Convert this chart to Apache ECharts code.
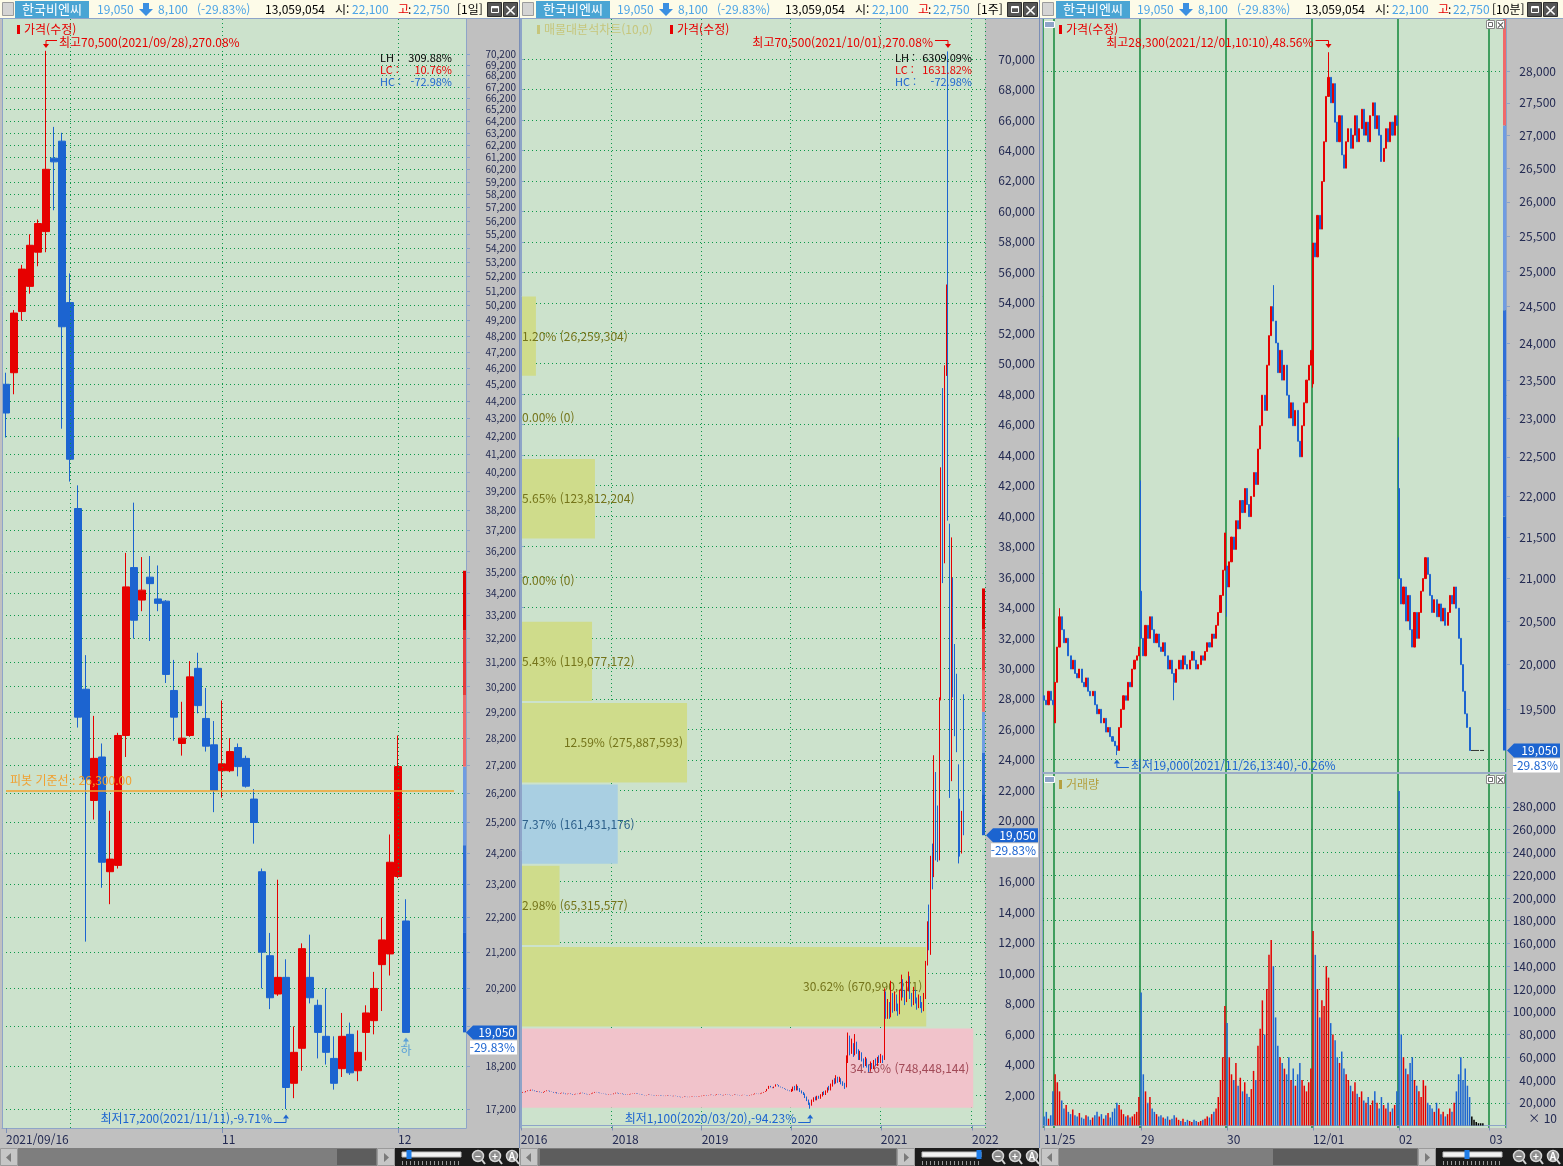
<!DOCTYPE html>
<html lang="ko"><head><meta charset="utf-8"><title>한국비엔씨</title>
<script src="https://cdn.jsdelivr.net/npm/echarts@6.0.0/dist/echarts.min.js"></script>
<style>html,body{margin:0;padding:0;background:#c0c0c0;overflow:hidden}#chart{width:1563px;height:1166px}</style>
</head><body><div id="chart"></div>
<script>
// ================= DATA =================
const stockName = '한국비엔씨';
const lastPrice = 19050, prevClose = 27150, dayOpenPrice = 22100, dayHighPrice = 22750, dayVolume = 13059054;
const limitLevels = [19050, 21750, 24450, 27150, 29850, 32550, 35250];

// --- daily (1일) ---
const dailyDates = ['2021/09/16','2021/09/17','2021/09/23','2021/09/24','2021/09/27','2021/09/28','2021/09/29','2021/09/30','2021/10/01','2021/10/05','2021/10/06','2021/10/07','2021/10/08','2021/10/12','2021/10/13','2021/10/14','2021/10/15','2021/10/18','2021/10/19','2021/10/20','2021/10/21','2021/10/22','2021/10/25','2021/10/26','2021/10/27','2021/10/28','2021/10/29','2021/11/01','2021/11/02','2021/11/03','2021/11/04','2021/11/05','2021/11/08','2021/11/09','2021/11/10','2021/11/11','2021/11/12','2021/11/15','2021/11/16','2021/11/17','2021/11/18','2021/11/19','2021/11/22','2021/11/23','2021/11/24','2021/11/25','2021/11/26','2021/11/29','2021/11/30','2021/12/01','2021/12/02'];
const dailyOpen  = [45200,45900,49800,51500,53900,55400,61100,62500,50400,38300,30100,25950,27500,23600,23800,28300,35400,33900,34950,33950,33850,30050,28000,28300,30950,28950,27950,27000,27000,27850,27450,26000,23600,21100,20050,20500,17800,18650,20500,19750,18950,18400,18150,19000,18100,19050,19350,20850,21150,23450,22100];
const dailyClose = [43500,49700,52700,54400,56000,60200,60800,48800,40900,29000,26700,27450,23900,24000,28300,34500,33000,34350,34650,33750,30700,29000,28200,30600,29450,27900,26300,27250,27700,27150,26450,25200,21200,19950,20500,17700,18550,21300,19950,19050,18550,17800,18950,18050,18550,19550,20200,21550,23900,27150,19050];
const dailyLow   = [42100,44600,49200,51000,52900,53900,57000,42600,39700,28600,21500,25300,23100,22600,23700,27500,32200,33400,32100,33400,30350,28100,27550,28250,29150,27700,25550,26050,26950,26800,26400,24500,20200,19650,20000,17200,17450,18100,19800,18400,18250,17650,17950,18000,17850,18350,19000,19600,20550,23400,19050];
const dailyHigh  = [45900,49900,53000,55200,56300,70500,63700,63200,52400,39500,31500,29050,28000,25600,28400,36100,38600,35900,35950,35500,33900,31300,29600,31250,31600,30150,28850,29650,28200,28000,27550,26350,23700,21750,23350,21000,19200,21450,21700,19900,20200,18950,19550,19300,19100,19750,20650,22200,24800,28300,22750];
const pivotLevel = 26300;

// --- weekly (1주) ---
const weekCloseEarly = [ // 2016/12/30 .. 2019/12/27 closes
2150,2200,2180,2250,2300,2280,2350,2300,2250,2200,2230,2180,2150,2200,2250,2300,2280,2220,2200,2150,2180,2100,2080,2120,2150,2100,2050,2080,2100,2060,2020,2050,2080,2060,2100,2150,2120,2080,2050,2030,2060,2100,2150,2200,2180,2150,2120,2100,2080,2050,2030,2060,2040,
2050,2100,2150,2120,2080,2100,2060,2030,2000,2020,2050,2080,2100,2130,2100,2070,2050,2020,2000,1980,2000,2030,2010,1990,1970,1950,1980,2000,1970,1950,1930,1950,1980,1960,1940,1920,1950,1930,1900,1880,1850,1870,1900,1880,1860,1880,1900,1920,1900,1880,1900,1920,
1950,1980,2000,1970,1990,2020,2000,1980,2010,2050,2030,2000,1980,2010,2040,2020,2000,1980,2000,2030,2010,1990,1970,1990,2010,2000,1980,1960,1990,2020,2050,2100,2080,2060,2100,2150,2200,2250,2400,2600,2500,2450,2550,2700,2650,2550,2500,2450,2400,2350,2300,2250];
const week2020 = [ // [open, close, low, high]
[2250,2300,2200,2400],[2300,2450,2250,2550],[2450,2350,2300,2600],[2350,2500,2300,2700],[2500,2400,2300,2600],[2400,2250,2200,2450],[2250,2150,2100,2300],[2150,2050,2000,2200],[2050,1850,1800,2100],[1850,1650,1600,1900],[1650,1400,1350,1700],[1400,1350,1100,1500],[1350,1600,1300,1700],[1600,1750,1550,1850],[1750,1700,1650,1900],[1700,1850,1650,1950],[1850,1800,1750,1950],[1800,1950,1750,2050],[1950,2100,1900,2200],[2100,2050,2000,2250],[2050,2200,2000,2300],[2200,2400,2150,2500],[2400,2350,2300,2600],[2350,2600,2300,2750],[2600,2900,2550,3000],[2900,2800,2700,3100],[2800,3100,2750,3300],[3100,2900,2800,3200],[2900,3000,2850,3200],[3000,2800,2700,3100],[2800,2700,2600,2900],[2700,2600,2400,2800],[2600,4300,2500,4600],[4300,5600,4100,6100],[5600,4900,4600,5900],[4900,5300,4700,5700],[5300,4700,4500,5400],[4700,5400,4600,6000],[5400,4900,4700,5500],[4900,4400,4300,5000],[4400,4700,4300,4900],[4700,4300,4200,4800],[4300,4000,3800,4400],[4000,4300,3900,4500],[4300,3900,3800,4400],[3900,3700,3500,4000],[3700,4000,3600,4200],[4000,3800,3700,4100],[3800,4100,3700,4300],[4100,4000,3900,4400],[4000,4300,3900,4500],[4300,4200,4100,4600]];
const week2021 = [
[4200,4400,4100,4700],[4400,4300,4100,4600],[4300,8200,4300,9000],[8200,7300,7000,8800],[7300,7800,7000,8300],[7800,7200,7000,8100],[7200,8500,7100,9500],[8500,7600,7400,8700],[7600,8300,7500,8800],[8300,7700,7500,8600],[7700,7400,7200,8000],[7400,8400,7300,8900],[8400,9300,8200,9900],[9300,8600,8400,9600],[8600,8200,7900,8900],[8200,9000,8100,9500],[9000,9600,8800,10100],[9600,8500,8300,9800],[8500,8000,7800,8700],[8000,8700,7900,9100],[8700,8200,8000,8900],[8200,7800,7600,8400],[7800,8300,7700,8600],[8300,7900,7700,8500],[7900,7600,7400,8100],[7600,8400,7500,8700],[8400,10700,8300,10800],[10700,12800,10500,13400],[12800,12200,11500,14500],[12200,17000,11200,17700],[17000,16500,15500,18500],[16500,22500,16300,24300],[22500,19500,17400,23200],[19500,18000,17300,21000],[18000,27800,17400,28100],[28000,42000,27900,43200],[47000,38000,35600,48400],[38000,49700,36900,49900],[49800,54400,49200,55200],[53900,40900,39700,70500],[38300,23900,21500,39500],[23600,33000,22600,38600],[33900,29000,28100,35950],[28000,26300,25550,31600],[27000,25200,24500,29650],[23600,18550,17200,23700],[18650,17800,17650,21450],[18150,20200,17850,20650],[20850,19050,19050,28300]];

// --- volume profile (매물대분석차트 10,0) ---
const profileStart = 1100, profileStep = 5338.46;
const profilePct = [34.16, 30.62, 2.98, 7.37, 12.59, 5.43, 0.00, 5.65, 0.00, 1.20];
const profileVol = [748448144, 670990271, 65315577, 161431176, 275887593, 119077172, 0, 123812204, 0, 26259304];

// --- 10 minute (10분) ---
const minuteDayStart = [0, 5, 44, 83, 122, 161, 202];
const minuteDayLabel = ['11/25', '26', '29', '30', '12/01', '02', '03'];
const minuteOpen = [19650, 19350, 20850, 21150, 23450, 22100];
const m1125 = [19600,19550,19700,19600,19550];
const m1126 = [19800,20200,20550,20400,20250,20300,20100,19950,20050,19900,19850,19950,19800,19750,19850,19700,19650,19700,19550,19450,19500,19350,19400,19250,19300,19200,19150,19100,19050,19300,19500,19650,19600,19800,19750,19950,20050,20100,20200];
const m1129 = [20300,20100,20450,20300,20550,20400,20250,20350,20200,20150,20250,20100,19950,20050,19900,19800,19950,20050,19950,20100,20000,19950,20050,20150,20050,19950,20000,20100,20050,20150,20250,20200,20350,20300,20450,20600,20800,21100,21550];
const m1130 = [20900,21200,21500,21350,21700,21600,21950,21800,22100,21900,21750,22000,22300,22150,22600,22900,23300,23100,23700,24100,24500,24300,24000,23600,23900,23500,23700,23300,23000,23200,22900,23100,22700,22500,22900,23200,23500,23700,23900];
const m1201 = [25400,25200,25800,25600,26300,26900,27600,27900,27500,27800,27200,26900,27300,26700,26500,26900,27100,26800,27000,27300,26900,27100,27400,27000,27200,26900,27300,27500,27100,27300,27000,26600,26800,27100,26900,27200,27000,27300,27150];
const m1202 = [21000,20700,20900,20500,20800,20400,20200,20600,20300,20600,20850,21000,21250,21050,20800,20600,20750,20550,20700,20500,20650,20450,20600,20800,20700,20900,20650,20300,20000,19700,19450,19300,19050,19050,19050,19050,19050,19050,19050];
const minuteWicks = [[7,null,20650],[33,19000,null],[44,null,22200],[59,19600,null],[83,20550,null],[104,null,24800],[122,23400,null],[129,null,28300],[161,null,22750]];
const v1125 = [8000,12000,6000,9000,30000];
const v1126 = [45000,38000,30000,22000,15000,18000,12000,10000,14000,9000,8000,11000,7000,6000,9000,8000,5000,7000,9000,12000,8000,10000,6000,9000,11000,7000,12000,15000,20000,18000,14000,10000,8000,9000,7000,8000,10000,12000,25000];
const v1129 = [117000,45000,30000,20000,25000,15000,12000,10000,8000,9000,7000,6000,8000,5000,6000,9000,7000,5000,4000,6000,3000,5000,4000,3000,5000,4000,3000,4000,5000,6000,8000,7000,10000,12000,15000,25000,40000,60000,105000];
const v1130 = [90000,60000,45000,40000,55000,35000,42000,30000,38000,28000,25000,32000,48000,40000,70000,85000,110000,80000,120000,150000,163000,140000,95000,70000,60000,55000,50000,45000,60000,40000,50000,35000,45000,55000,40000,35000,30000,38000,50000];
const v1201 = [171000,150000,120000,95000,110000,105000,140000,130000,90000,80000,75000,60000,55000,65000,50000,45000,40000,35000,30000,38000,28000,25000,30000,22000,20000,25000,18000,22000,30000,20000,15000,25000,18000,15000,20000,12000,15000,18000,30000];
const v1202 = [294000,80000,60000,50000,45000,55000,60000,40000,35000,30000,25000,40000,35000,20000,18000,15000,12000,20000,15000,10000,12000,8000,10000,15000,12000,20000,30000,45000,60000,40000,50000,35000,25000,8000,5000,3000,2000,2000,2000];

// --- axis tick labels ---
const p1Ticks = [17200,18200,19200,20200,21200,22200,23200,24200,25200,26200,27200,28200,29200,30200,31200,32200,33200,34200,35200,36200,37200,38200,39200,40200,41200,42200,43200,44200,45200,46200,47200,48200,49200,50200,51200,52200,53200,54200,55200,56200,57200,58200,59200,60200,61200,62200,63200,64200,65200,66200,67200,68200,69200,70200];
const p2Ticks = [2000,4000,6000,8000,10000,12000,14000,16000,18000,20000,22000,24000,26000,28000,30000,32000,34000,36000,38000,40000,42000,44000,46000,48000,50000,52000,54000,56000,58000,60000,62000,64000,66000,68000,70000];
const p3Ticks = [19500,20000,20500,21000,21500,22000,22500,23000,23500,24000,24500,25000,25500,26000,26500,27000,27500,28000];
const volTicks = [20000,40000,60000,80000,100000,120000,140000,160000,180000,200000,220000,240000,260000,280000];
const p3GridLevels = [28000, 19000];

// ================= BUILD =================
const L = Math.log;
const FONT = '"Noto Sans CJK KR", "Noto Sans", sans-serif';
const GRIDC = '#0d984a', DOT = [1, 3], NAVY = '#232a52', FRAME = '#8ea4c8';
const RED = '#e60000', BLUE = '#1c64d0', LBLUE = '#4ca4e6';
const BG = '#cce2cc';
function fmtNum(v){ const s = String(Math.round(Math.abs(v))).replace(/\B(?=(\d{3})+(?!\d))/g, ','); return (v < 0 ? '-' : '') + s; }
const pctText = ((lastPrice / prevClose - 1) * 100).toFixed(2) + '%';

// panel 1
const p1Cats = dailyDates.concat(['f1','f2','f3','f4','f5','f6','f7']);
const p1Candles = dailyDates.map((d, i) => [L(dailyOpen[i]), L(dailyClose[i]), L(dailyLow[i]), L(dailyHigh[i])]);
const p1XLabels = {0: '2021/09/16', 27: '11', 49: '12'};
const iHigh1 = dailyHigh.indexOf(Math.max(...dailyHigh));
const iLow1 = dailyLow.indexOf(Math.min(...dailyLow));

// panel 2
const weekOHLC = [];
let prevC = weekCloseEarly[0];
weekCloseEarly.forEach(c => { const o = prevC; weekOHLC.push([o, c, Math.min(o, c), Math.max(o, c)]); prevC = c; });
week2020.concat(week2021).forEach(r => weekOHLC.push(r));
const weekCats = [];
const wk0 = Date.UTC(2016, 11, 30);
for (let i = 0; i < 270; i++) {
  const d = new Date(wk0 + i * 7 * 86400000);
  weekCats.push(d.getUTCFullYear() + '/' + String(d.getUTCMonth() + 1).padStart(2, '0') + '/' + String(d.getUTCDate()).padStart(2, '0'));
}
const p2XLabels = {};
let lastLab = -999;
weekCats.forEach((c, i) => {
  if (i === 0 || c.slice(0, 4) !== weekCats[i - 1].slice(0, 4)) {
    if (i - lastLab > 20) { p2XLabels[i] = c.slice(0, 4); lastLab = i; }
  }
});
const wHighs = weekOHLC.map(r => r[3]), wLows = weekOHLC.map(r => r[2]);
const iHigh2 = wHighs.indexOf(Math.max(...wHighs));
const iLow2 = wLows.indexOf(Math.min(...wLows));
const profileMax = Math.max(...profilePct);
const profileCur = Math.floor((lastPrice - profileStart) / profileStep);

// panel 3
const minuteClose = [m1125, m1126, m1129, m1130, m1201, m1202];
const minuteVolDays = [v1125, v1126, v1129, v1130, v1201, v1202];
const mRaw = [];
minuteClose.forEach((arr, d) => { let o = minuteOpen[d]; arr.forEach(c => { mRaw.push([o, c, Math.min(o, c), Math.max(o, c)]); o = c; }); });
minuteWicks.forEach(([s, lo, hi]) => { if (lo != null) mRaw[s][2] = Math.min(mRaw[s][2], lo); if (hi != null) mRaw[s][3] = Math.max(mRaw[s][3], hi); });
const mCandles = mRaw.map(r => r.map(L));
const mVol = [].concat(...minuteVolDays);
const mVolData = mVol.map((v, i) => {
  const r = mRaw[i]; const col = r[1] > r[0] ? RED : (r[1] < r[0] ? BLUE : '#000000');
  return {value: v, itemStyle: {color: col}};
});
const mCats = [];
for (let i = 0; i < 210; i++) mCats.push('s' + i);
const p3XLabels = {};
let lastM = -999;
minuteDayStart.forEach((s, k) => { if (s - lastM > 20) { p3XLabels[s] = minuteDayLabel[k]; lastM = s; } });
const mHighs = mRaw.map(r => r[3]), mLows = mRaw.map(r => r[2]);
const iHigh3 = mHighs.indexOf(Math.max(...mHighs));
const iLow3 = mLows.indexOf(Math.min(...mLows));

// limit strip
const limitColors = ['#1a5fd0', '#2f6fd8', '#6f9ce2', '#f06a6a', '#e83a3a', '#dd0000'];
const limitSegs = limitLevels.slice(0, -1).map((lo, i) => [lo, limitLevels[i + 1]]);
function stripSeries(xi, yi, tf) {
  return {
    type: 'custom', xAxisIndex: xi, yAxisIndex: yi, silent: true, z: 6,
    data: limitSegs.map((s, i) => [0, tf(s[0]), tf(s[1])]),
    renderItem(params, api) {
      const cs = params.coordSys;
      const ya = api.coord([0, api.value(1)])[1], yb = api.coord([0, api.value(2)])[1];
      const top = Math.max(Math.min(ya, yb), cs.y), bot = Math.min(Math.max(ya, yb), cs.y + cs.height);
      if (bot <= top) return null;
      return {type: 'rect', shape: {x: cs.x + cs.width - 3, y: top, width: 3, height: bot - top}, style: {fill: limitColors[params.dataIndex]}};
    }
  };
}

const candleStyle = {color: RED, color0: BLUE, borderColor: RED, borderColor0: BLUE, borderColorDoji: '#000000', borderWidth: 1};
const axLabel = {color: NAVY, fontFamily: FONT, fontSize: 12};
const dotLine = {lineStyle: {color: GRIDC, type: DOT, width: 1}};

function catAxis(grid, data, labels, splitFn, splitStyle, showLabels) {
  return {
    type: 'category', gridIndex: grid, data, boundaryGap: true,
    axisLine: {show: true, lineStyle: {color: FRAME}},
    axisTick: {show: showLabels, alignWithLabel: true, interval: (i) => labels[i] !== undefined, length: 5, lineStyle: {color: '#7c90ba'}},
    axisLabel: Object.assign({show: showLabels, interval: (i) => labels[i] !== undefined, formatter: (v, i) => labels[i] || '', align: 'left', margin: 5}, axLabel),
    splitLine: {show: true, interval: splitFn, lineStyle: splitStyle}
  };
}
function valAxis(grid, min, max, ticks, labelTicks, tf, split, fs) {
  return {
    type: 'value', gridIndex: grid, position: 'right', min, max,
    axisLine: {show: true, lineStyle: {color: FRAME}},
    axisTick: {show: true, customValues: ticks.map(tf), length: 4, lineStyle: {color: FRAME}},
    axisLabel: Object.assign({customValues: labelTicks.map(tf), formatter: (v) => fmtNum(tf === L ? Math.exp(v) : v), align: 'right', margin: 50, hideOverlap: false}, axLabel, fs ? {fontSize: fs, lineHeight: fs} : {}),
    splitLine: {show: split, lineStyle: {color: GRIDC, type: DOT, width: 1}}
  };
}
const ident = v => v;

const option = {
  backgroundColor: '#c0c0c0',
  animation: false,
  textStyle: {fontFamily: FONT},
  grid: [
    {left: 2, top: 19, width: 464, height: 1109, show: true, backgroundColor: BG, borderWidth: 0, containLabel: false, outerBoundsMode: 'none'},
    {left: 520, top: 19, width: 465, height: 1109, show: true, backgroundColor: BG, borderWidth: 0, containLabel: false, outerBoundsMode: 'none'},
    {left: 1043, top: 19, width: 463, height: 753, show: true, backgroundColor: BG, borderWidth: 0, containLabel: false, outerBoundsMode: 'none'},
    {left: 1043, top: 774, width: 463, height: 354, show: true, backgroundColor: BG, borderWidth: 0, containLabel: false, outerBoundsMode: 'none'}
  ],
  xAxis: [
    catAxis(0, p1Cats, p1XLabels, (i) => i === 0, {color: GRIDC, type: DOT, width: 1}, true),
    catAxis(1, weekCats, p2XLabels, (i) => p2XLabels[i] !== undefined, {color: GRIDC, type: DOT, width: 1}, true),
    {type: 'value', gridIndex: 1, min: 0, max: 35.05, show: false},
    Object.assign(catAxis(2, mCats, p3XLabels, (i) => minuteDayStart.includes(i), {color: '#12873a', width: 1.5, type: 'solid'}, false), {axisLine: {show: false}}),
    catAxis(3, mCats, p3XLabels, (i) => minuteDayStart.includes(i), {color: '#12873a', width: 1.5, type: 'solid'}, true)
  ],
  yAxis: [
    valAxis(0, L(16770), L(73554), p1Ticks, p1Ticks.filter(t => t !== 19200), L, true, 10),
    valAxis(1, -166, 72627, p2Ticks, p2Ticks.filter(t => t !== 18000), ident, true),
    valAxis(2, L(18819), L(28838), p3Ticks, p3Ticks, L, false),
    valAxis(3, -2190, 308940, volTicks, volTicks, ident, true)
  ],
  series: [
    { // panel 1 daily candles
      type: 'candlestick', name: '가격(수정)', xAxisIndex: 0, yAxisIndex: 0, data: p1Candles, barWidth: 7, itemStyle: candleStyle, z: 3,
      markLine: {
        symbol: ['none', 'none'], silent: true, animation: false,
        data: [
          {xAxis: dailyDates[8], lineStyle: dotLine.lineStyle, label: {show: false}},
          {xAxis: dailyDates[27], lineStyle: dotLine.lineStyle, label: {show: false}},
          {xAxis: dailyDates[49], lineStyle: dotLine.lineStyle, label: {show: false}},
          [{coord: [p1Cats[0], L(pivotLevel)], lineStyle: {color: '#f3a12c', width: 1.5, type: 'solid'},
            label: {show: true, position: 'insideStartTop', formatter: '피봇 기준선 : ' + pivotLevel.toLocaleString('en-US', {minimumFractionDigits: 2}), color: '#f0a030', fontSize: 12, fontFamily: FONT, distance: [4, 4]}},
           {coord: [p1Cats[56], L(pivotLevel)]}]
        ]
      }
    },
    stripSeries(0, 0, L),
    { // panel 2 volume profile
      type: 'custom', name: '매물대분석차트', xAxisIndex: 2, yAxisIndex: 1, silent: true, z: 2,
      data: profilePct.map((p, i) => [p, profileStart + i * profileStep, profileStart + (i + 1) * profileStep, profileVol[i]]),
      renderItem(params, api) {
        const i = params.dataIndex, pct = api.value(0), lo = api.value(1), hi = api.value(2), vol = api.value(3);
        const a = api.coord([0, hi]), b = api.coord([pct, lo]);
        const cs = params.coordSys;
        let fill = '#cfdc8b', tc = '#74741a';
        if (pct === profileMax) { fill = '#f1c3cb'; tc = '#a24a57'; }
        else if (i === profileCur) { fill = '#a9cfe2'; tc = '#2c5f8a'; }
        const kids = [];
        if (pct > 0) kids.push({type: 'rect', shape: {x: a[0] + 2, y: a[1] + 1, width: b[0] - a[0] - 2, height: b[1] - a[1] - 2}, style: {fill}});
        const inside = pct >= 10;
        kids.push({type: 'text', x: inside ? b[0] - 4 : cs.x + 2, y: (a[1] + b[1]) / 2,
          style: {text: pct.toFixed(2) + '% (' + fmtNum(vol) + ')', fill: tc, fontFamily: FONT, fontSize: 12, align: inside ? 'right' : 'left', verticalAlign: 'middle'}});
        return {type: 'group', children: kids};
      }
    },
    { // panel 2 weekly candles
      type: 'candlestick', name: '가격(수정)', xAxisIndex: 1, yAxisIndex: 1, data: weekOHLC, barWidth: 1, itemStyle: candleStyle, z: 3
    },
    stripSeries(1, 1, ident),
    { // panel 3 10-min candles
      type: 'candlestick', name: '가격(수정)', xAxisIndex: 3, yAxisIndex: 2, data: mCandles, barWidth: 1.6, itemStyle: candleStyle, z: 3,
      markLine: {symbol: ['none', 'none'], silent: true, label: {show: false}, lineStyle: dotLine.lineStyle, data: p3GridLevels.map(v => ({yAxis: L(v)}))}
    },
    stripSeries(3, 2, L),
    { // volume
      type: 'bar', name: '거래량', xAxisIndex: 4, yAxisIndex: 3, data: mVolData, barWidth: 1.5, z: 3
    }
  ]
};

const chart = echarts.init(document.getElementById('chart'), null, {renderer: 'canvas', width: 1563, height: 1166});
chart.setOption(option);

// ================= CHROME / ANNOTATIONS =================
const G = [];
function T(x, y, text, fill, o) {
  o = o || {};
  G.push({type: 'text', x, y, z: 100, silent: true, style: {text, fill, fontFamily: FONT, fontSize: o.size || 12, fontWeight: o.weight || 'normal', align: o.align || 'left', verticalAlign: 'middle'}});
}
function R(x, y, w, h, fill, stroke, z) {
  G.push({type: 'rect', z: z || 90, silent: true, shape: {x, y, width: w, height: h}, style: {fill: fill || 'none', stroke: stroke || null, lineWidth: 1}});
}
function PL(pts, stroke, w, z) { G.push({type: 'polyline', z: z || 100, silent: true, shape: {points: pts}, style: {stroke, lineWidth: w || 1, fill: null}}); }
function PG(pts, fill, z) { G.push({type: 'polygon', z: z || 100, silent: true, shape: {points: pts}, style: {fill}}); }
function C(cx, cy, r, fill, stroke) { G.push({type: 'circle', z: 100, silent: true, shape: {cx, cy, r}, style: {fill, stroke, lineWidth: 1.5}}); }

function header(x0, w, boxOff, perText, perOff) {
  R(x0, 0, w, 18, '#fdfbe8', null, 80);
  PL([[x0, 18.5], [x0 + w, 18.5]], FRAME, 1, 85);
  R(x0 + 2.5, 2.5, 11, 13, '#d4d4d4', '#9c9c9c');
  R(x0 + boxOff, 1, 74, 17, '#4aa5d4');
  T(x0 + boxOff + 37, 9.5, stockName, '#ffffff', {align: 'center', size: 13});
  T(x0 + 97, 9.5, fmtNum(lastPrice), LBLUE);
  PG([[x0 + 143, 3], [x0 + 149, 3], [x0 + 149, 9], [x0 + 153, 9], [x0 + 146, 16], [x0 + 139, 9], [x0 + 143, 9]], '#3b8fe2');
  T(x0 + 158, 9.5, fmtNum(prevClose - lastPrice), LBLUE);
  T(x0 + 197, 9.5, '(' + pctText + ')', LBLUE);
  T(x0 + 265, 9.5, fmtNum(dayVolume), '#000000');
  T(x0 + 335, 9.5, '시:', '#000000');
  T(x0 + 352, 9.5, fmtNum(dayOpenPrice), LBLUE);
  T(x0 + 398, 9.5, '고', RED);
  T(x0 + 408, 9.5, ':', '#000000');
  T(x0 + 413, 9.5, fmtNum(dayHighPrice), LBLUE);
  T(x0 + perOff, 9.5, perText, '#000000');
  R(x0 + 487.5, 2.5, 14, 14, '#555555', '#2f2f2f');
  R(x0 + 491.5, 6.5, 7, 6, null, '#ffffff');
  PL([[x0 + 491.5, 7.5], [x0 + 498.5, 7.5]], '#ffffff', 1.5);
  R(x0 + 503.5, 2.5, 14, 14, '#555555', '#2f2f2f');
  T(x0 + 510.5, 9.5, '×', '#ffffff', {align: 'center', size: 14, weight: 'bold'});
}
header(0, 520, 15, '[1일]', 457);
header(520, 520, 16, '[1주]', 457);
header(1040, 523, 16, '[10분]', 452);

// frames
PL([[2.5, 19], [2.5, 1128]], FRAME, 1, 95);
PL([[521.5, 19], [521.5, 1128]], FRAME, 1, 95);
PL([[1042.5, 19], [1042.5, 1128]], FRAME, 1, 95);
PL([[519.5, 0], [519.5, 1148]], '#7a8eb6', 1, 96);
PL([[1039.5, 0], [1039.5, 1148]], '#7a8eb6', 1, 96);
PL([[1043, 773], [1506, 773]], FRAME, 1.5, 95);

function scroll(x0, trackEnd, th0, th1, knob, blackEnd) {
  const y = 1148;
  R(x0 + 0.5, y + 0.5, 17, 17, '#c6c6c6', '#9a9a9a');
  PG([[x0 + 11, 1153], [x0 + 11, 1162], [x0 + 6, 1157.5]], '#7a7a7a');
  R(x0 + 18, y, trackEnd - x0 - 18, 18, '#7e7e7e');
  R(th0, y + 1, th1 - th0, 16, '#5d5d5d');
  R(trackEnd + 0.5, y + 0.5, 17, 17, '#c6c6c6', '#9a9a9a');
  PG([[trackEnd + 7, 1153], [trackEnd + 7, 1162], [trackEnd + 12, 1157.5]], '#7a7a7a');
  R(trackEnd + 18, y, blackEnd - trackEnd - 18, 18, '#1c1c1c');
  const sx = trackEnd + 25;
  R(sx, 1152, 59, 5, '#f2f2f2', '#bdbdbd');
  const ticks = [];
  for (let k = 0; k <= 14; k++) ticks.push([[sx + k * 4 + 0.5, 1161], [sx + k * 4 + 0.5, 1165]]);
  ticks.forEach(p => PL(p, '#9a9a9a'));
  R(knob - 2.5, 1150, 5, 9, '#1f7de8');
  [['−', 101], ['+', 118], ['A', 135]].forEach(([s, off]) => {
    C(trackEnd + off, 1156, 5.5, '#8e8e8e', '#d4d4d4');
    PL([[trackEnd + off + 4, 1160], [trackEnd + off + 7, 1164]], '#d4d4d4', 2);
    T(trackEnd + off, 1156, s, '#ffffff', {align: 'center', size: 10, weight: 'bold'});
  });
}
scroll(0, 377, 337, 376, 409, 519);
scroll(520, 897, 540, 896, 979, 1039);
scroll(1041, 1418, 1273, 1417, 1467, 1563);

// legends
function legend(x, y, text, color) { R(x, y - 4, 3, 9, color, null, 100); T(x + 7, y, text, color); }
legend(17, 29, '가격(수정)', RED);
legend(537, 29, '매물대분석차트(10,0)', '#c6c67c');
legend(670, 29, '가격(수정)', RED);
legend(1059, 29, '가격(수정)', RED);
legend(1059, 784, '거래량', '#b4a040');
// pane icons (10분)
[[21], [776]].forEach(([yy]) => {
  R(1044.5, yy + 0.5, 10, 6, '#8ea4c8', '#ffffff');
  R(1486.5, yy - 0.5, 8, 8, '#ffffff', '#8a8a8a');
  R(1488.5, yy + 1.5, 4, 4, null, '#6a6a6a');
  R(1496.5, yy - 0.5, 8, 8, '#ffffff', '#8a8a8a');
  T(1500.5, yy + 3.5, '×', '#555555', {align: 'center', size: 9, weight: 'bold'});
});
T(1557, 1118, '× 10', NAVY, {align: 'right'});

// LH / LC / HC
function ratios(xLeft, xRight, hi, lo) {
  const rows = [['LH', (hi / lo - 1) * 100, '#000000'], ['LC', (lastPrice / lo - 1) * 100, RED], ['HC', (lastPrice / hi - 1) * 100, BLUE]];
  rows.forEach(([k, v, c], j) => {
    T(xLeft, 58 + j * 12, k + ' :', c, {size: 11});
    T(xRight, 58 + j * 12, v.toFixed(2) + '%', c, {align: 'right', size: 11});
  });
}
ratios(380, 452, Math.max(...dailyHigh), Math.min(...dailyLow));
ratios(895, 972, Math.max(...wHighs), Math.min(...wLows));

// high / low notes
function highNote(xa, text, textRight) {
  if (textRight) {
    PL([[xa + 11, 40.5], [xa, 40.5], [xa, 45]], RED);
    PG([[xa - 3, 44], [xa + 3, 44], [xa, 48]], RED);
    T(xa + 13, 42, text, RED);
  } else {
    PL([[xa - 13, 40.5], [xa, 40.5], [xa, 45]], RED);
    PG([[xa - 3, 44], [xa + 3, 44], [xa, 48]], RED);
    T(xa - 15, 42, text, RED, {align: 'right'});
  }
}
function lowNote(xa, yl, ty, text, textLeft) {
  if (textLeft) {
    PL([[xa - 12, yl], [xa, yl], [xa, yl - 4]], BLUE);
    PG([[xa - 3, yl - 4], [xa + 3, yl - 4], [xa, yl - 8]], BLUE);
    T(xa - 14, ty, text, BLUE, {align: 'right'});
  } else {
    PL([[xa + 12, yl], [xa, yl], [xa, yl - 4]], BLUE);
    PG([[xa - 3, yl - 4], [xa + 3, yl - 4], [xa, yl - 8]], BLUE);
    T(xa + 14, ty, text, BLUE);
  }
}
const px = (xi, v) => chart.convertToPixel({xAxisIndex: xi}, v);
const hi1 = Math.max(...dailyHigh), lo1 = Math.min(...dailyLow);
highNote(px(0, p1Cats[iHigh1]), '최고' + fmtNum(hi1) + '(' + dailyDates[iHigh1] + '),' + ((hi1 / lastPrice - 1) * 100).toFixed(2) + '%', true);
lowNote(px(0, p1Cats[iLow1]), 1122.5, 1118, '최저' + fmtNum(lo1) + '(' + dailyDates[iLow1] + '),' + ((lo1 / lastPrice - 1) * 100).toFixed(2) + '%', true);
const hi2 = wHighs[iHigh2], lo2 = wLows[iLow2];
highNote(px(1, weekCats[iHigh2]), '최고' + fmtNum(hi2) + '(' + weekCats[iHigh2] + '),' + ((hi2 / lastPrice - 1) * 100).toFixed(2) + '%', false);
lowNote(px(1, weekCats[iLow2]), 1122.5, 1118, '최저' + fmtNum(lo2) + '(' + weekCats[iLow2] + '),' + ((lo2 / lastPrice - 1) * 100).toFixed(2) + '%', true);
const hi3 = mHighs[iHigh3], lo3 = mLows[iLow3];
highNote(px(3, mCats[iHigh3]), '최고' + fmtNum(hi3) + '(2021/12/01,10:10),' + ((hi3 / lastPrice - 1) * 100).toFixed(2) + '%', false);
lowNote(px(3, mCats[iLow3]), 767.5, 765, '최저' + fmtNum(lo3) + '(2021/11/26,13:40),' + ((lo3 / lastPrice - 1) * 100).toFixed(2) + '%', false);

// lower-limit marker 하
const xLast = px(0, dailyDates[dailyDates.length - 1]);
const yLast = chart.convertToPixel({yAxisIndex: 0}, L(lastPrice));
PL([[xLast, yLast + 13], [xLast, yLast + 7]], '#5aa0d8');
PG([[xLast - 3, yLast + 9], [xLast + 3, yLast + 9], [xLast, yLast + 5]], '#5aa0d8');
T(xLast, yLast + 18, '하', '#5aa0d8', {align: 'center', size: 12});

// current price tags
function tag(xl, xr, y) {
  PG([[xl, y], [xl + 7, y - 7], [xr, y - 7], [xr, y + 7], [xl + 7, y + 7]], BLUE, 110);
  G.push({type: 'text', x: xr - 2, y, z: 111, silent: true, style: {text: fmtNum(lastPrice), fill: '#ffffff', fontFamily: FONT, fontSize: 12, align: 'right', verticalAlign: 'middle'}});
  R(xr - 47, y + 8, 47, 14, '#ffffff', null, 110);
  G.push({type: 'text', x: xr - 2, y: y + 15, z: 111, silent: true, style: {text: pctText, fill: BLUE, fontFamily: FONT, fontSize: 12, align: 'right', verticalAlign: 'middle'}});
}
tag(466, 517, chart.convertToPixel({yAxisIndex: 0}, L(lastPrice)));
tag(986, 1038, chart.convertToPixel({yAxisIndex: 1}, lastPrice));
tag(1507, 1560, chart.convertToPixel({yAxisIndex: 2}, L(lastPrice)));

chart.setOption({graphic: {elements: G}});
</script></body></html>
